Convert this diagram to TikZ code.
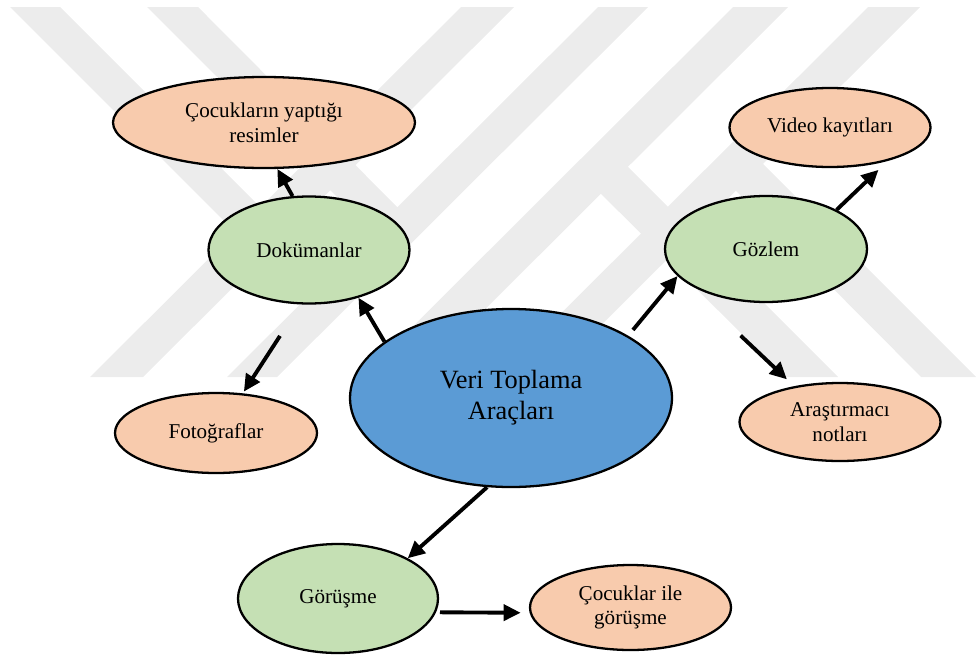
\documentclass[tikz,border=0pt]{standalone}
\usepackage{fontspec}
\setmainfont{Liberation Serif}
\usepackage{xcolor}
\usepackage{tikz}
\usetikzlibrary{arrows.meta,shapes.geometric}
\definecolor{hubblue}{RGB}{91,155,213}
\definecolor{branchgreen}{RGB}{197,224,180}
\definecolor{leafpeach}{RGB}{248,203,173}
\definecolor{markgray}{RGB}{236,236,236}

\begin{document}
\begin{tikzpicture}[
  hub/.style={ellipse, draw, line width=1.3pt, fill=hubblue, inner sep=0pt, align=center, font=\fontsize{15}{17.6}\selectfont},
  branch/.style={ellipse, draw, line width=1.3pt, fill=branchgreen, inner sep=0pt, align=center, font=\fontsize{12}{14}\selectfont},
  leaf/.style={ellipse, draw, line width=1.3pt, fill=leafpeach, inner sep=0pt, align=center, font=\fontsize{12}{14}\selectfont},
  arr/.style={line width=2.2pt, -{Triangle[length=0.34cm,width=0.32cm]}}]
\useasboundingbox (0,0) rectangle (19.58,13.12);
\begin{scope}[x=0.02cm, y=-0.02cm, yshift=13.12cm]
\fill[markgray] (461,7) -- (514,7) -- (143,377) -- (90,377) -- cycle;
\fill[markgray] (598,7) -- (648,7) -- (277,377) -- (227,377) -- cycle;
\fill[markgray] (733,7) -- (788,7) -- (417,377) -- (362,377) -- cycle;
\fill[markgray] (868,7) -- (920,7) -- (549,377) -- (497,377) -- cycle;
\fill[markgray] (10,7) -- (60,7) -- (274,221) -- (249,246) -- cycle;
\fill[markgray] (147,7) -- (198,7) -- (410,220) -- (385,245) -- cycle;
\fill[markgray] (587,180) -- (614,153) -- (838,377) -- (785,377) -- cycle;
\fill[markgray] (723,178) -- (750,151) -- (976,377) -- (921,377) -- cycle;
\end{scope}
\node[hub, minimum width=6.44cm, minimum height=3.56cm] (vta) at (10.22,5.16) {Veri Toplama\\Araçları};
\node[branch, minimum width=4.02cm, minimum height=2.14cm] (dok) at (6.18,8.12) {Dokümanlar};
\node[branch, minimum width=4.04cm, minimum height=2.12cm] (goz) at (15.32,8.14) {Gözlem};
\node[branch, minimum width=4.0cm, minimum height=2.18cm] (goru) at (6.76,1.15) {Görüşme};
\node[leaf, minimum width=6.04cm, minimum height=1.82cm] (res) at (5.28,10.67) {Çocukların yaptığı\\resimler};
\node[leaf, minimum width=4.04cm, minimum height=1.6cm] (foto) at (4.32,4.46) {Fotoğraflar};
\node[leaf, minimum width=4.02cm, minimum height=1.58cm] (vid) at (16.6,10.57) {Video kayıtları};
\node[leaf, minimum width=4.02cm, minimum height=1.56cm] (ara) at (16.8,4.68) {Araştırmacı\\notları};
\node[leaf, minimum width=4.02cm, minimum height=1.7cm] (cig) at (12.61,0.97) {Çocuklar ile\\görüşme};
\draw[arr] (vta.156) -- (dok.-44);
\draw[arr] (dok.107) -- (res.-74);
\draw[arr, shorten <=0.75cm, shorten >=0.04cm] (dok.261) -- (foto.56);
\draw[arr, shorten <=0.15cm] (vta.28) -- (goz.197);
\draw[arr, shorten >=0.26cm] (goz.29) -- (vid.-30);
\draw[arr, shorten <=1.81cm, shorten >=0.2cm] (goz.195) -- (ara.142);
\draw[arr] (vta.255) -- (goru.30);
\draw[arr, shorten <=0.08cm, shorten >=0.18cm] (goru.-8) -- (cig.183);
\end{tikzpicture}
\end{document}
